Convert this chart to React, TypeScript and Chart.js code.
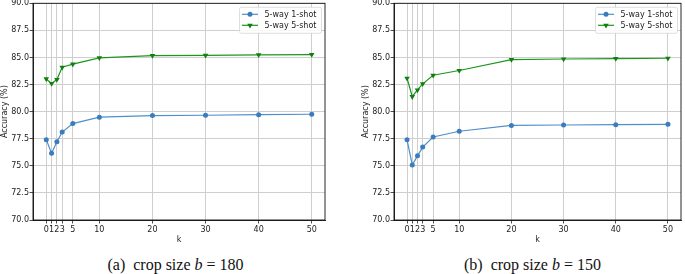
import React, { useEffect, useRef } from "react";
import { Chart, registerables } from "chart.js";

Chart.register(...registerables);

const kValues = [0, 1, 2, 3, 5, 10, 20, 30, 40, 50];
const xTickValues = [0, 1, 2, 3, 5, 10, 20, 30, 40, 50];
const yTickValues = [70, 72.5, 75, 77.5, 80, 82.5, 85, 87.5, 90];
const seriesLabels = ["5-way 1-shot", "5-way 5-shot"];

const oneShot180 = [77.4, 76.17, 77.22, 78.12, 78.9, 79.49, 79.64, 79.67, 79.72, 79.76];
const fiveShot180 = [83.02, 82.6, 82.96, 84.1, 84.38, 84.97, 85.17, 85.2, 85.24, 85.27];
const oneShot150 = [77.4, 75.08, 75.92, 76.73, 77.66, 78.19, 78.73, 78.77, 78.8, 78.83];
const fiveShot150 = [83.08, 81.38, 82.0, 82.56, 83.36, 83.8, 84.8, 84.86, 84.89, 84.93];

const BLUE_LINE = "#4f8fcb";
const BLUE_MARK = "#3b7cbd";
const GREEN_LINE = "#1e961e";
const GREEN_MARK = "#0f7f0f";
const GRID = "#cfcfcf";
const TEXT = "#222222";
const FONT = { family: "'DejaVu Sans', sans-serif", size: 8 };

function drawMarker(ctx: CanvasRenderingContext2D, kind: string, x: number, y: number, color: string) {
  ctx.save();
  ctx.fillStyle = color;
  ctx.beginPath();
  if (kind === "circle") {
    ctx.arc(x, y, 2.5, 0, Math.PI * 2);
  } else {
    const r = 3.2;
    ctx.moveTo(x - r * 0.87, y - r * 0.5);
    ctx.lineTo(x + r * 0.87, y - r * 0.5);
    ctx.lineTo(x, y + r);
    ctx.closePath();
  }
  ctx.fill();
  ctx.restore();
}

const framePlugin = {
  id: "frameAndLegend",
  afterDraw(chart: any) {
    const { ctx, chartArea } = chart;
    const { left, right, top, bottom } = chartArea;
    ctx.save();
    ctx.strokeStyle = "#111";
    ctx.lineWidth = 0.9;
    ctx.strokeRect(left, top, right - left, bottom - top);

    // legend box
    const w = 82;
    const h = 26;
    const bx = right - 3.5 - w;
    const by = top + 4;
    ctx.fillStyle = "rgba(255,255,255,0.85)";
    ctx.strokeStyle = "#d6d6d6";
    ctx.lineWidth = 0.8;
    ctx.beginPath();
    const r = 2;
    ctx.moveTo(bx + r, by);
    ctx.lineTo(bx + w - r, by);
    ctx.quadraticCurveTo(bx + w, by, bx + w, by + r);
    ctx.lineTo(bx + w, by + h - r);
    ctx.quadraticCurveTo(bx + w, by + h, bx + w - r, by + h);
    ctx.lineTo(bx + r, by + h);
    ctx.quadraticCurveTo(bx, by + h, bx, by + h - r);
    ctx.lineTo(bx, by + r);
    ctx.quadraticCurveTo(bx, by, bx + r, by);
    ctx.closePath();
    ctx.fill();
    ctx.stroke();

    const ds = chart.data.datasets;
    ds.forEach((d: any, i: number) => {
      const yy = by + 7 + i * 11;
      ctx.strokeStyle = d.borderColor;
      ctx.lineWidth = 1.2;
      ctx.beginPath();
      ctx.moveTo(bx + 2.5, yy);
      ctx.lineTo(bx + 18.5, yy);
      ctx.stroke();
      drawMarker(ctx, i === 0 ? "circle" : "triangle", bx + 10.5, yy, d.pointBackgroundColor);
      ctx.fillStyle = TEXT;
      ctx.font = "8px 'DejaVu Sans', sans-serif";
      ctx.textBaseline = "middle";
      ctx.textAlign = "left";
      ctx.fillText(d.label, bx + 25, yy + 0.5);
    });
    ctx.restore();
  },
};

type SubProps = {
  left: number;
  width: number;
  padRight: number;
  oneShot: number[];
  fiveShot: number[];
};

function SubChart({ left, width, padRight, oneShot, fiveShot }: SubProps) {
  const ref = useRef<HTMLCanvasElement | null>(null);
  useEffect(() => {
    const canvas = ref.current!;
    const chart = new Chart(canvas, {
      type: "line",
      data: {
        datasets: [
          {
            label: seriesLabels[0],
            data: kValues.map((k, i) => ({ x: k, y: oneShot[i] })),
            borderColor: BLUE_LINE,
            backgroundColor: BLUE_MARK,
            pointBackgroundColor: BLUE_MARK,
            pointBorderColor: BLUE_MARK,
            pointStyle: "circle",
            pointRadius: 2.5,
            pointBorderWidth: 0,
            borderWidth: 1.2,
            tension: 0,
          },
          {
            label: seriesLabels[1],
            data: kValues.map((k, i) => ({ x: k, y: fiveShot[i] })),
            borderColor: GREEN_LINE,
            backgroundColor: GREEN_MARK,
            pointBackgroundColor: GREEN_MARK,
            pointBorderColor: GREEN_MARK,
            pointStyle: "triangle",
            rotation: 180,
            pointRadius: 3.2,
            pointBorderWidth: 0,
            borderWidth: 1.2,
            tension: 0,
          },
        ],
      },
      options: {
        animation: false,
        responsive: false,
        devicePixelRatio: 1,
        layout: { padding: { left: 0, right: padRight, top: 0, bottom: 0 } },
        plugins: { legend: { display: false }, tooltip: { enabled: false } },
        scales: {
          x: {
            type: "linear",
            min: -2.5,
            max: 52.5,
            afterBuildTicks: (s: any) => {
              s.ticks = xTickValues.map((v) => ({ value: v }));
            },
            afterFit: (s: any) => {
              s.height = 28;
            },
            ticks: {
              autoSkip: false,
              maxRotation: 0,
              minRotation: 0,
              padding: 1.5,
              color: TEXT,
              font: FONT,
              callback: (v: any) => String(v),
            },
            grid: { color: GRID, lineWidth: 1, tickLength: 3.5, tickColor: "#222", tickWidth: 0.8 },
            border: { display: true, color: "#111", width: 0.9 },
            title: { display: true, text: "k", color: TEXT, font: FONT, padding: { top: 0, bottom: 3 } },
          },
          y: {
            type: "linear",
            min: 70,
            max: 90,
            afterBuildTicks: (s: any) => {
              s.ticks = yTickValues.map((v) => ({ value: v }));
            },
            afterFit: (s: any) => {
              s.width = 33;
            },
            ticks: {
              padding: 0.5,
              color: TEXT,
              font: FONT,
              callback: (v: any) => Number(v).toFixed(1),
            },
            grid: { color: GRID, lineWidth: 1, tickLength: 3.5, tickColor: "#222", tickWidth: 0.8 },
            border: { display: true, color: "#111", width: 0.9 },
            title: { display: true, text: "Accuracy (%)", color: TEXT, font: FONT, padding: { top: 0, bottom: 0 } },
          },
        },
      },
      plugins: [framePlugin],
    });
    const dy = 3 - chart.chartArea.top;
    const h = Math.round(248 - dy);
    chart.resize(width, h);
    const dy2 = 3 - chart.chartArea.top;
    canvas.style.top = dy2 + "px";
    canvas.style.width = width + "px";
    canvas.style.height = h + "px";
    return () => chart.destroy();
  }, []);
  return (
    <canvas
      ref={ref}
      width={width}
      height={250}
      style={{ position: "absolute", left, top: 0, width, height: 250 }}
    />
  );
}

const titleStyle: React.CSSProperties = {
  position: "absolute",
  top: 256,
  fontFamily: "'Liberation Serif', 'DejaVu Serif', serif",
  fontSize: 16,
  lineHeight: "18px",
  color: "#111",
  whiteSpace: "nowrap",
  transform: "translateX(-50%)",
};

export default function App() {
  return (
    <div
      style={{
        position: "absolute",
        left: 0,
        top: 0,
        width: 685,
        height: 274,
        overflow: "hidden",
        background: "#fff",
      }}
    >
      <SubChart left={0} width={340} padRight={15} oneShot={oneShot180} fiveShot={fiveShot180} />
      <SubChart left={361} width={324} padRight={1} oneShot={oneShot150} fiveShot={fiveShot150} />
      <div style={{ ...titleStyle, left: 175.5 }}>
        (a)&nbsp; crop size <i>b</i>&nbsp;=&nbsp;180
      </div>
      <div style={{ ...titleStyle, left: 532.5 }}>
        (b)&nbsp; crop size <i>b</i>&nbsp;=&nbsp;150
      </div>
    </div>
  );
}
